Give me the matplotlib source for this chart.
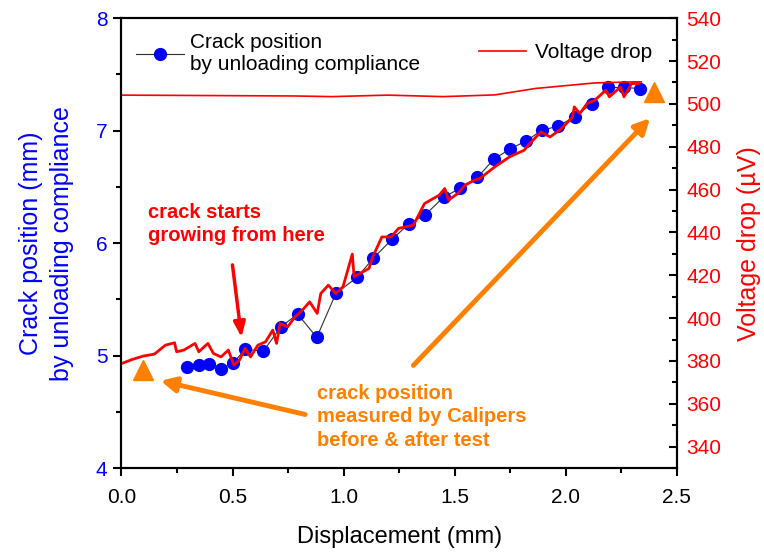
import numpy as np
import matplotlib
matplotlib.use("Agg")
import matplotlib.pyplot as plt
from matplotlib.ticker import MultipleLocator, FormatStrFormatter

plt.rcParams['font.family'] = ['Liberation Sans', 'DejaVu Sans']

# crack position from unloading compliance (mm)
crack_x = [0.295, 0.348, 0.394, 0.448, 0.503, 0.558, 0.638, 0.717, 0.793, 0.879,
           0.965, 1.060, 1.134, 1.217, 1.293, 1.367, 1.450, 1.523, 1.602, 1.676,
           1.748, 1.821, 1.893, 1.964, 2.040, 2.116, 2.188, 2.262, 2.333]
crack_y = [4.895, 4.916, 4.924, 4.880, 4.936, 5.058, 5.037, 5.256, 5.369, 5.162,
           5.553, 5.695, 5.867, 6.033, 6.169, 6.252, 6.409, 6.486, 6.584, 6.747,
           6.836, 6.909, 7.004, 7.040, 7.123, 7.240, 7.384, 7.384, 7.375]

# voltage drop trace (uV)
volt_x = [0.003, 0.048, 0.098, 0.148, 0.198, 0.239, 0.248, 0.281, 0.331, 0.348,
          0.389, 0.414, 0.448, 0.481, 0.506, 0.531, 0.556, 0.581, 0.614, 0.648,
          0.681, 0.698, 0.714, 0.748, 0.781, 0.814, 0.847, 0.881, 0.897, 0.931,
          0.964, 0.997, 1.039, 1.047, 1.114, 1.131, 1.172, 1.214, 1.247, 1.314,
          1.364, 1.430, 1.455, 1.472, 1.514, 1.547, 1.588, 1.613, 1.680, 1.747,
          1.813, 1.830, 1.888, 1.929, 1.971, 1.996, 2.030, 2.038, 2.063, 2.096,
          2.130, 2.180, 2.196, 2.246, 2.262, 2.296, 2.329]
volt_y = [378.9, 380.7, 382.3, 383.2, 387.4, 388.5, 384.3, 385.1, 388.2, 384.3,
          388.2, 383.5, 381.9, 385.1, 378.1, 380.4, 385.9, 381.9, 387.4, 388.9,
          394.4, 388.2, 397.5, 395.9, 400.6, 403.7, 407.6, 402.2, 411.5, 415.4,
          411.5, 414.6, 429.9, 419.3, 423.2, 428.6, 437.9, 437.9, 441.9, 443.4,
          453.5, 457.4, 460.5, 455.1, 458.2, 462.1, 464.4, 465.2, 470.6, 475.3,
          478.4, 480.7, 486.9, 484.6, 487.7, 490.1, 493.9, 498.6, 495.5, 500.2,
          501.7, 506.4, 503.3, 507.9, 503.3, 509.5, 509.5]

# flat voltage trace near the top
flat_x = [0.006, 0.781, 0.947, 1.197, 1.447, 1.680, 1.863, 2.130, 2.312, 2.340]
flat_y = [504.1, 503.7, 503.4, 504.1, 503.4, 504.2, 507.2, 509.8, 510.3, 510.3]

# calipers measurements (mm)
cal_x = [0.098, 2.399]
cal_y = [4.871, 7.345]

blue = '#0000FF'
red = '#FF0000'
orange = '#FF8000'

fig = plt.figure(figsize=(7.64, 5.52), dpi=100)
ax = fig.add_axes([0.159, 0.152, 0.727, 0.815])
ax2 = ax.twinx()
# separate axes for the calipers triangles so they sit on top
ax3 = ax.twinx()
ax3.axis('off')

ax.plot(crack_x, crack_y, '-', color='#303030', lw=0.8, marker='o', ms=8.5,
        mfc=blue, mec=blue, label='Crack position\nby unloading compliance')
ax2.plot(volt_x, volt_y, '-', color=red, lw=2)
ax2.plot(flat_x, flat_y, '-', color=red, lw=1.2, label='Voltage drop')
ax3.plot(cal_x, cal_y, '^', color=orange, ms=14)

ax.set_xlim(0, 2.5)
ax.set_ylim(4, 8)
ax2.set_ylim(330, 540)
ax3.set_ylim(4, 8)

ax.xaxis.set_major_locator(MultipleLocator(0.5))
ax.xaxis.set_minor_locator(MultipleLocator(0.25))
ax.xaxis.set_major_formatter(FormatStrFormatter('%.1f'))
ax.yaxis.set_major_locator(MultipleLocator(1))
ax.yaxis.set_minor_locator(MultipleLocator(0.5))
ax2.set_yticks(np.arange(340, 541, 20))
ax2.yaxis.set_minor_locator(MultipleLocator(10))

for a in (ax, ax2):
    for s in a.spines.values():
        s.set_linewidth(1.5)

ax.tick_params(axis='x', which='both', direction='out', width=1.5, labelsize=15, pad=8)
ax.tick_params(axis='x', which='major', length=6)
ax.tick_params(axis='x', which='minor', length=3.5)
ax.tick_params(axis='y', which='both', direction='out', width=1.5, labelsize=15,
               labelcolor=blue, pad=4)
ax.tick_params(axis='y', which='major', length=6)
ax.tick_params(axis='y', which='minor', length=3.5)
ax2.tick_params(axis='y', which='both', direction='in', width=1.5, labelsize=15,
                labelcolor=red, pad=7)
ax2.tick_params(axis='y', which='major', length=6)
ax2.tick_params(axis='y', which='minor', length=3.5)

ax.set_xlabel('Displacement (mm)', fontsize=17, labelpad=14)
ax.set_ylabel('Crack position (mm)\nby unloading compliance', fontsize=18,
              color=blue, labelpad=16, linespacing=1.35)
ax2.set_ylabel('Voltage drop (\u00b5V)', fontsize=18, color=red, labelpad=11)

leg1 = ax.legend(loc='upper left', frameon=False, fontsize=15, handlelength=2.3,
                 borderaxespad=0.3, handletextpad=0.3)
ax.get_legend().remove()
h, l = ax2.get_legend_handles_labels()
ax3.legend(h, l, loc='upper right', frameon=False, fontsize=15, handlelength=2.3,
           borderaxespad=0.8, handletextpad=0.4)
ax3.add_artist(leg1)

# annotations
ax3.text(0.12, 6.36, 'crack starts\ngrowing from here', color=red, fontsize=14.5,
         fontweight='bold', ha='left', va='top', linespacing=1.3)
ax3.annotate('', xy=(0.542, 5.138), xytext=(0.498, 5.831),
             arrowprops=dict(arrowstyle='-|>,head_length=0.9,head_width=0.35',
                             color=red, lw=2.5))
ax3.text(0.88, 4.75, 'crack position\nmeasured by Calipers\nbefore & after test',
         color=orange, fontsize=14.5, fontweight='bold', ha='left', va='top',
         linespacing=1.3)
ax3.annotate('', xy=(0.164, 4.782), xytext=(0.839, 4.471),
             arrowprops=dict(arrowstyle='-|>,head_length=0.9,head_width=0.45',
                             color=orange, lw=3.5))
ax3.annotate('', xy=(2.388, 7.129), xytext=(1.305, 4.895),
             arrowprops=dict(arrowstyle='-|>,head_length=0.9,head_width=0.45',
                             color=orange, lw=3.5))

fig.savefig('out.png', dpi=100)
